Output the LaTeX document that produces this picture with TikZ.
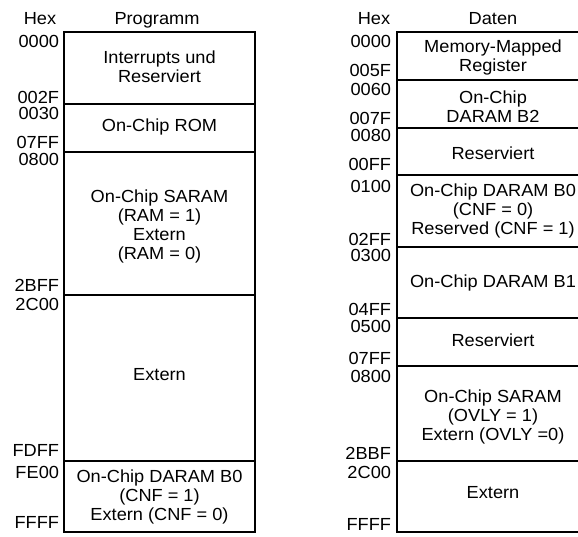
\documentclass[tikz,border=0pt]{standalone}
\usepackage{fontspec}
\setmainfont{Liberation Sans}[FakeStretch=1.04]

\begin{document}
\begin{tikzpicture}[x=1pt,y=-1pt,line width=2pt,
    font=\fontsize{17.5}{19}\selectfont,
    adr/.style={anchor=base east,inner sep=0pt},
    kopf/.style={anchor=base,inner sep=0pt},
    feld/.style={align=center,inner sep=0pt}]
    \useasboundingbox (0,0) rectangle (578,537);

    % Programmspeicher: ein Block mit fuenf Bereichen, die Adressen
    % stehen links an den Trennlinien.
    \node[kopf] (hexp) at (40,25) {Hex};
    \node[kopf] (prog) at (157,25) {Programm};
    \draw (64,32) rectangle (255,532);
    \draw (64,104) -- (255,104);
    \draw (64,152) -- (255,152);
    \draw (64,295) -- (255,295);
    \draw (64,461) -- (255,461);

    \node[feld] (pint) at (159.5,66.5) {Interrupts und\\Reserviert};
    \node[feld] (prom) at (159.5,127) {On-Chip ROM};
    \node[feld] (psaram) at (159.5,226.5)
        {On-Chip SARAM\\(RAM = 1)\\Extern\\(RAM = 0)};
    \node[feld] (pext) at (159.5,375) {Extern};
    \node[feld] (pdaram) at (159.5,497)
        {On-Chip DARAM B0\\(CNF = 1)\\Extern (CNF = 0)};

    \node[adr] (pa0) at (60,47.5) {0000};
    \node[adr] (pa1) at (60,103.5) {002F};
    \node[adr] (pa2) at (60,119.5) {0030};
    \node[adr] (pa3) at (60,148.5) {07FF};
    \node[adr] (pa4) at (60,165.5) {0800};
    \node[adr] (pa5) at (60,291.5) {2BFF};
    \node[adr] (pa6) at (60,310.5) {2C00};
    \node[adr] (pa7) at (60,456.5) {FDFF};
    \node[adr] (pa8) at (60,478.5) {FE00};
    \node[adr] (pa9) at (60,528.5) {FFFF};

    % Datenspeicher: der Block laeuft rechts ueber den Bildrand hinaus.
    \node[kopf] (hexd) at (374,25) {Hex};
    \node[kopf] (dat) at (493,25) {Daten};
    \draw (580,32) -- (397,32) -- (397,532) -- (580,532);
    \draw (397,80) -- (580,80);
    \draw (397,128) -- (580,128);
    \draw (397,175) -- (580,175);
    \draw (397,247) -- (580,247);
    \draw (397,318) -- (580,318);
    \draw (397,366) -- (580,366);
    \draw (397,461) -- (580,461);

    \node[feld] (dmmr) at (493,57.5) {Memory-Mapped\\Register};
    \node[feld] (db2) at (493,106.5) {On-Chip\\DARAM B2};
    \node[feld] (dres1) at (493,153) {Reserviert};
    \node[feld] (db0) at (493,211)
        {On-Chip DARAM B0\\(CNF = 0)\\Reserved (CNF = 1)};
    \node[feld] (db1) at (493,283) {On-Chip DARAM B1};
    \node[feld] (dres2) at (493,340) {Reserviert};
    \node[feld] (dsaram) at (493,417)
        {On-Chip SARAM\\(OVLY = 1)\\Extern (OVLY =0)};
    \node[feld] (dext) at (493,493) {Extern};

    \node[adr] (da0) at (392,47.5) {0000};
    \node[adr] (da1) at (392,76.5) {005F};
    \node[adr] (da2) at (392,95.5) {0060};
    \node[adr] (da3) at (392,124.5) {007F};
    \node[adr] (da4) at (392,141.5) {0080};
    \node[adr] (da5) at (392,170.5) {00FF};
    \node[adr] (da6) at (392,192.5) {0100};
    \node[adr] (da7) at (392,245.5) {02FF};
    \node[adr] (da8) at (392,261.5) {0300};
    \node[adr] (da9) at (392,315.5) {04FF};
    \node[adr] (da10) at (392,332.5) {0500};
    \node[adr] (da11) at (392,364.5) {07FF};
    \node[adr] (da12) at (392,382.5) {0800};
    \node[adr] (da13) at (392,459.5) {2BBF};
    \node[adr] (da14) at (392,478.5) {2C00};
    \node[adr] (da15) at (392,530.5) {FFFF};
\end{tikzpicture}
\end{document}
